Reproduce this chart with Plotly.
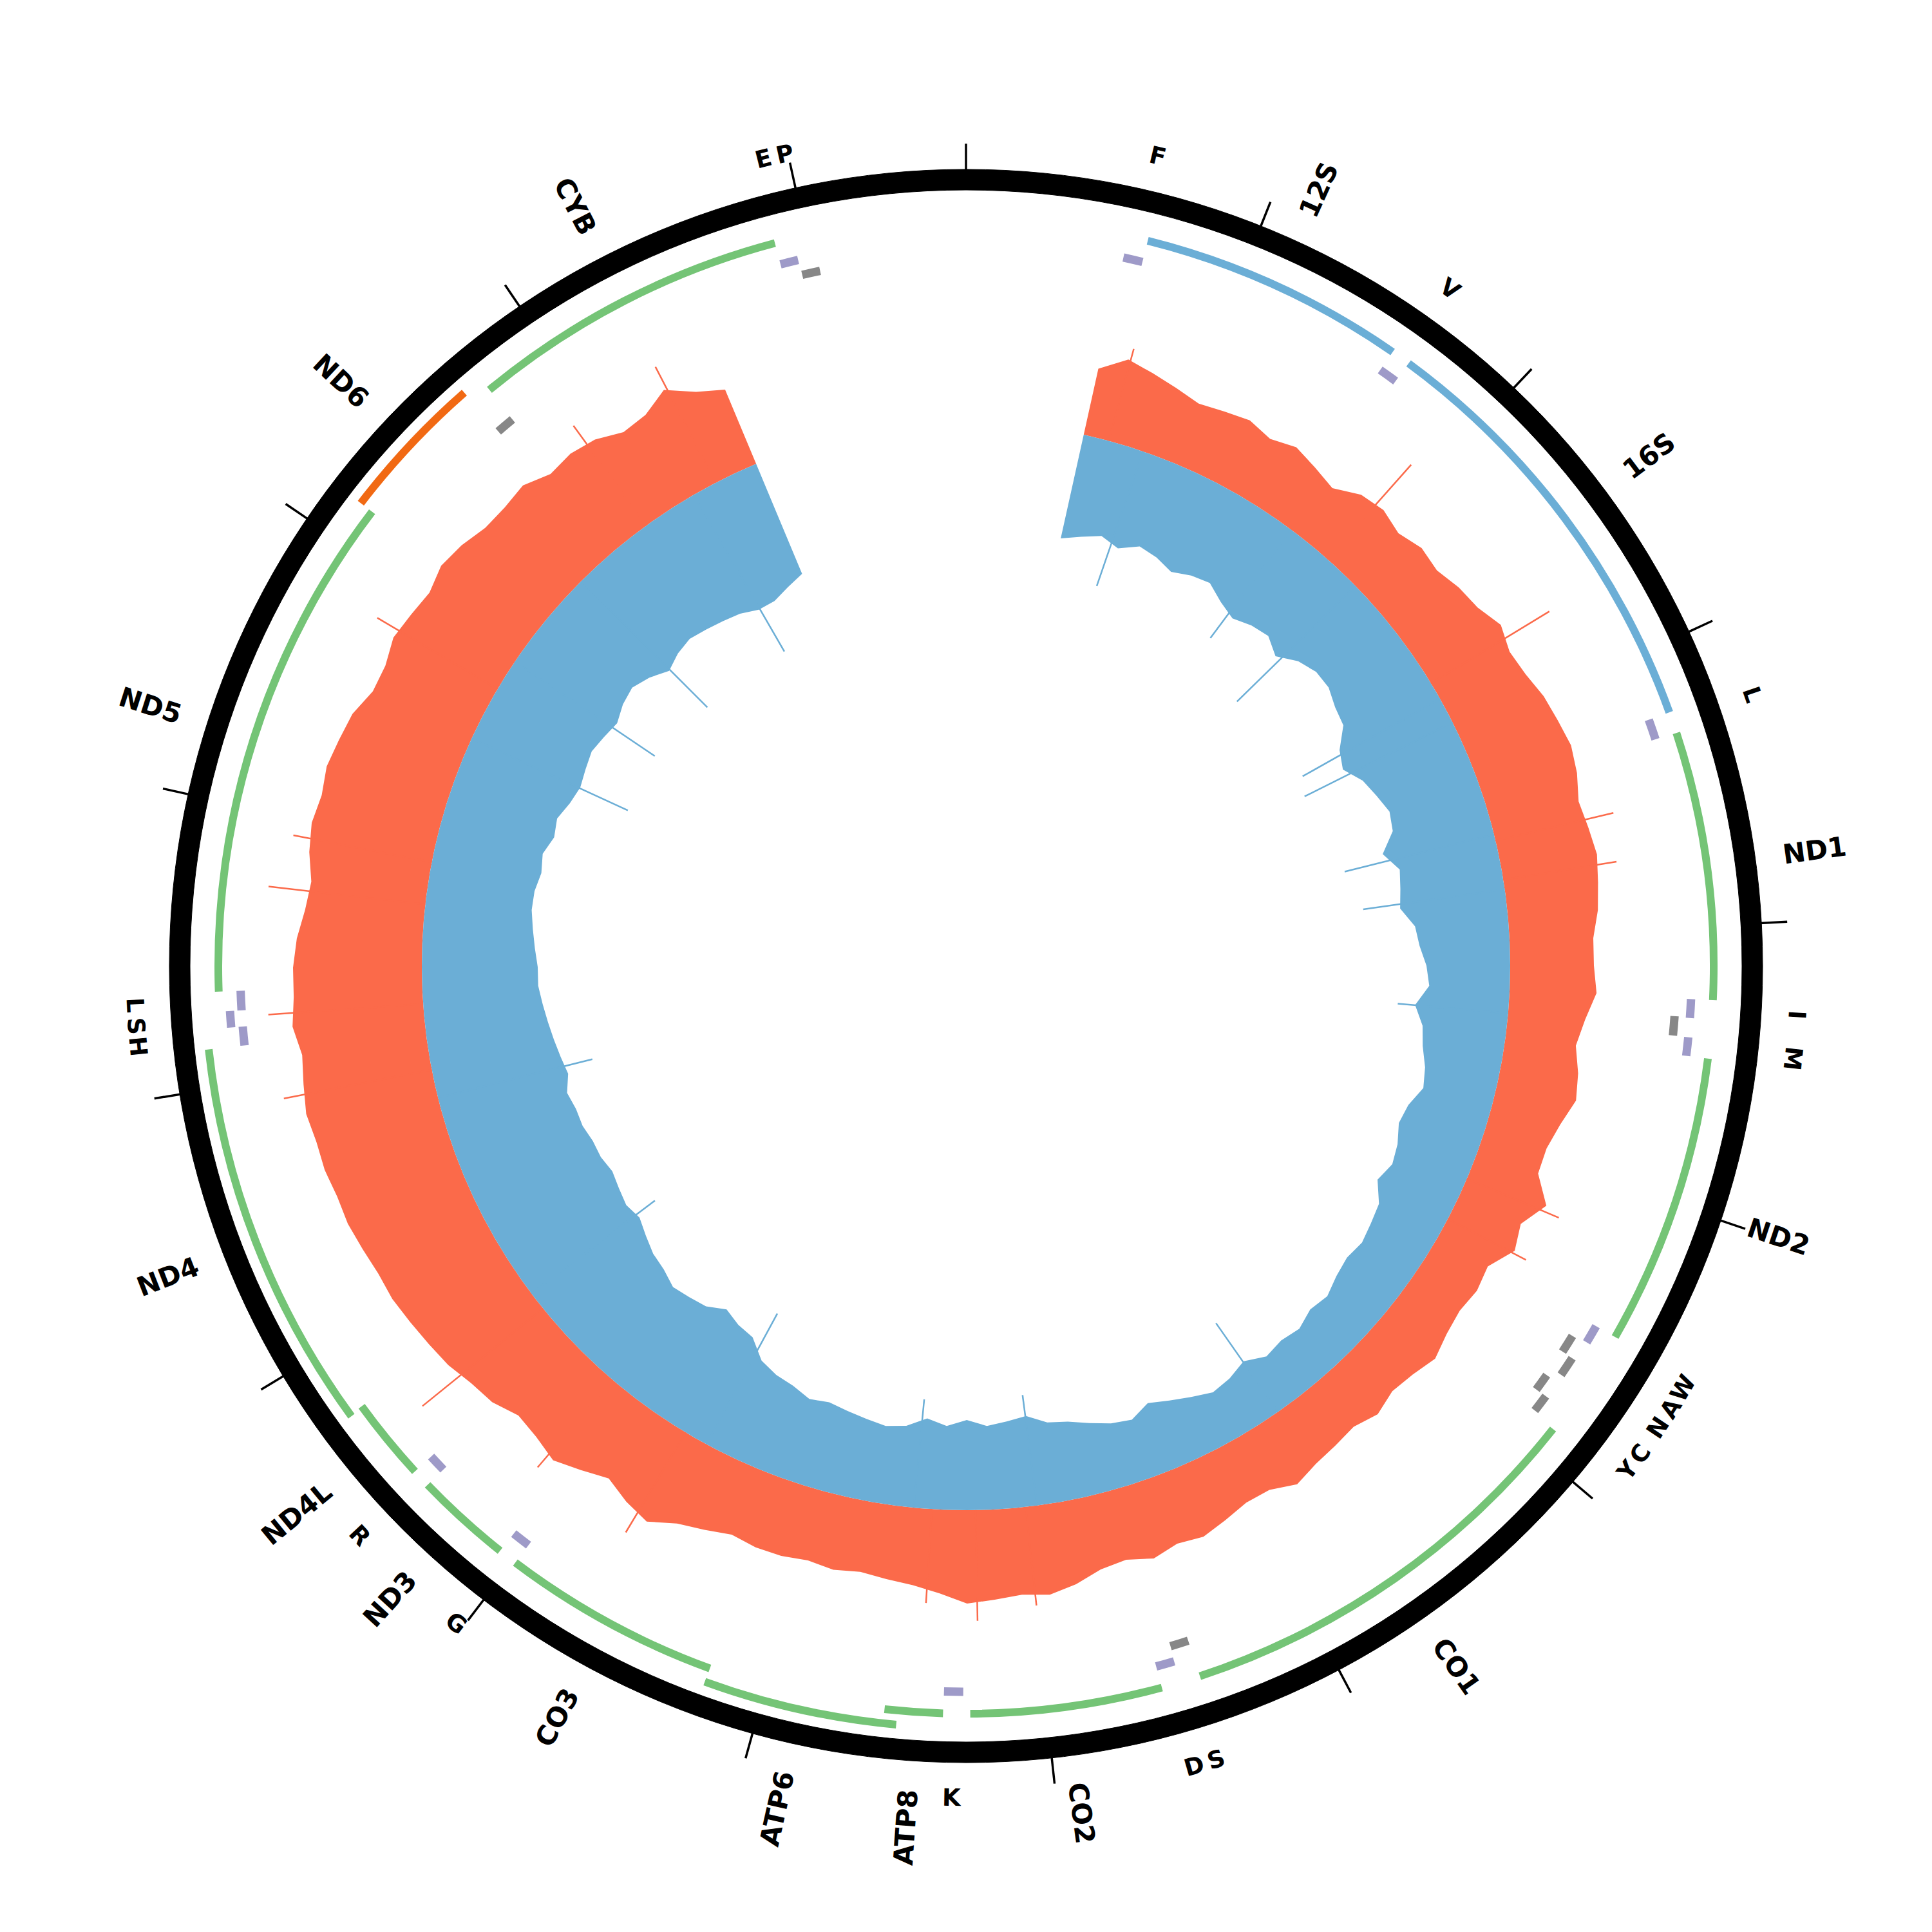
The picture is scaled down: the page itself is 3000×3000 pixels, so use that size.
import math
import plotly.graph_objects as go

GENOME_LEN = 16569

# ---------------- coverage tracks (binned, genomic position in bp) ----------------
bin_pos = [575 + 115 * i for i in range(131)]
plus_cov = [105, 130, 120, 110, 100, 105, 110, 100, 110, 100, 90, 110, 115, 105, 115, 110,
            120, 125, 140, 130, 135, 145, 150, 155, 150, 140, 145, 150, 145, 140, 130, 130,
            135, 120, 110, 120, 125, 110, 100, 100, 130, 105, 115, 90, 95, 90, 95, 105,
            95, 90, 100, 90, 95, 100, 110, 95, 95, 105, 115, 110, 120, 110, 115, 130,
            140, 135, 140, 145, 130, 120, 115, 110, 115, 110, 115, 115, 110, 120, 130, 150,
            140, 125, 140, 155, 145, 140, 155, 160, 170, 175, 180, 185, 185, 190, 195, 195,
            200, 200, 205, 200, 195, 205, 200, 200, 195, 185, 180, 190, 195, 190, 195, 190,
            185, 170, 170, 180, 175, 170, 180, 175, 165, 165, 170, 155, 160, 155, 140, 145,
            165, 140, 125]
minus_cov = [165, 155, 145, 155, 140, 145, 155, 145, 140, 155, 165, 155, 150, 165, 145, 135,
             135, 145, 150, 175, 185, 165, 155, 145, 150, 175, 155, 160, 165, 145, 140, 130,
             125, 145, 130, 125, 115, 110, 125, 130, 120, 115, 125, 105, 100, 95, 100, 95,
             85, 90, 80, 85, 80, 95, 85, 80, 90, 100, 110, 95, 100, 110, 120, 125,
             140, 135, 130, 140, 130, 140, 125, 120, 125, 130, 135, 130, 140, 145, 155, 180,
             185, 195, 180, 175, 170, 180, 185, 195, 205, 200, 205, 210, 205, 205, 200, 200,
             195, 205, 200, 195, 190, 185, 180, 180, 175, 170, 165, 165, 170, 165, 175, 170,
             180, 185, 180, 175, 180, 185, 175, 170, 180, 195, 185, 180, 185, 190, 195, 205,
             205, 195, 185]
plus_spike_pos = [700, 1915, 2702, 3530, 3723, 5201, 5417, 7995, 8238, 8450, 9711, 10149,
                  10632, 11921, 12243, 12726, 12933, 13835, 14912, 15308]
plus_spike_val = [148, 196, 215, 188, 178, 155, 137, 154, 172, 146, 181, 179,
                  241, 234, 241, 245, 219, 217, 192, 203]
minus_spike_pos = [874, 1689, 2103, 2789, 2918, 3498, 3769, 4372, 6674, 7939, 8538, 9596,
                   10723, 11782, 13564, 13992, 14498, 15188]
minus_spike_val = [221, 210, 257, 245, 257, 239, 222, 172, 168, 173, 169, 231,
                   240, 247, 267, 262, 277, 281]

# ---------------- genes ----------------
gene_names = ["12S", "16S", "ND1", "ND2", "CO1", "CO2", "ATP8", "ATP6", "CO3", "ND3",
              "ND4L", "ND4", "ND5", "ND6", "CYB"]
gene_start = [648, 1671, 3307, 4470, 5904, 7586, 8366, 8527, 9207, 10059, 10470, 10760,
              12337, 14149, 14747]
gene_end = [1601, 3229, 4262, 5511, 7445, 8269, 8572, 9207, 9990, 10404, 10766, 12137,
            14148, 14673, 15887]
gene_strand = ["+", "+", "+", "+", "+", "+", "+", "+", "+", "+", "+", "+", "+", "-", "+"]
gene_kind = ["rRNA", "rRNA"] + ["CDS"] * 13

# ---------------- tRNAs ----------------
trna_names = ["F", "V", "L1", "I", "Q", "M", "W", "A", "N", "C", "Y", "S1", "D", "K",
              "G", "R", "H", "S2", "L2", "E", "T", "P"]
trna_start = [577, 1602, 3230, 4263, 4329, 4402, 5512, 5587, 5657, 5761, 5826, 7446, 7518,
              8295, 9991, 10405, 12138, 12207, 12266, 14674, 15888, 15956]
trna_end = [647, 1670, 3304, 4331, 4400, 4469, 5579, 5655, 5729, 5826, 5891, 7514, 7585,
            8364, 10058, 10469, 12206, 12265, 12336, 14742, 15953, 16023]
trna_strand = ["+", "+", "+", "+", "-", "+", "+", "-", "-", "-", "-", "-", "+", "+",
               "+", "+", "+", "+", "+", "-", "+", "-"]
trna_label = ["F", "V", "L", "I", "", "M", "W", "A", "N", "C", "Y", "S", "D", "K",
              "G", "R", "H", "S", "L", "", "E", "P"]

tick_pos = list(range(0, 16001, 1000))

# ---------------- style ----------------
BASE = 845
RING_IN, RING_W = 1205, 32
TICK_LEN = 40
GENE_R, GENE_W, GENE_RAISE = 1155, 12, 22
TP_R, TM_R, T_W, T_RAISE = 1120.5, 1096.5, 13, 18
C_TRACK_RED = "#fb6a4a"
C_TRACK_BLUE = "#6baed6"
C_CDS = "#74c476"
C_CDS_MINUS = "#f16913"
C_RRNA = "#6baed6"
C_TRNA_P = "#9e9ac8"
C_TRNA_M = "#878787"
FONT = "DejaVu Sans"
PLOT_R = 1400


def deg(bp):
    return bp / GENOME_LEN * 360.0


def levels(starts, ends):
    out, prev_end, prev_lv = [], None, 0
    for s, e in zip(starts, ends):
        lv = 1 if (prev_end is not None and s - prev_end <= 2 and prev_lv == 0) else 0
        out.append(lv)
        prev_end, prev_lv = e, lv
    return out


fig = go.Figure()

# coverage polygons
th = [deg(p) for p in bin_pos]
fig.add_trace(go.Scatterpolar(
    theta=th + th[::-1], r=[BASE + v for v in plus_cov] + [BASE] * len(th),
    mode="lines", fill="toself", fillcolor=C_TRACK_RED, line=dict(width=0, color=C_TRACK_RED),
    hoverinfo="skip"))
fig.add_trace(go.Scatterpolar(
    theta=th + th[::-1], r=[BASE] * len(th) + [BASE - v for v in minus_cov][::-1],
    mode="lines", fill="toself", fillcolor=C_TRACK_BLUE, line=dict(width=0, color=C_TRACK_BLUE),
    hoverinfo="skip"))

# spikes
st, sr = [], []
for p, v in zip(plus_spike_pos, plus_spike_val):
    st += [deg(p), deg(p), None]
    sr += [BASE, BASE + v, None]
fig.add_trace(go.Scatterpolar(theta=st, r=sr, mode="lines",
                              line=dict(width=2.5, color=C_TRACK_RED), hoverinfo="skip"))
st, sr = [], []
for p, v in zip(minus_spike_pos, minus_spike_val):
    st += [deg(p), deg(p), None]
    sr += [BASE, BASE - v, None]
fig.add_trace(go.Scatterpolar(theta=st, r=sr, mode="lines",
                              line=dict(width=2.5, color=C_TRACK_BLUE), hoverinfo="skip"))

# genes
glv = levels(gene_start, gene_end)
gcol = []
for k, s in zip(gene_kind, gene_strand):
    gcol.append(C_RRNA if k == "rRNA" else (C_CDS if s == "+" else C_CDS_MINUS))
fig.add_trace(go.Barpolar(
    theta=[deg((s + e) / 2) for s, e in zip(gene_start, gene_end)],
    width=[deg(e - s + 1) for s, e in zip(gene_start, gene_end)],
    base=[GENE_R + l * GENE_RAISE for l in glv],
    r=[GENE_W] * len(gene_start),
    marker=dict(color=gcol, line=dict(width=0)), hoverinfo="skip"))

# tRNAs by strand
for strand, r0, col in (("+", TP_R, C_TRNA_P), ("-", TM_R, C_TRNA_M)):
    idx = [i for i, s in enumerate(trna_strand) if s == strand]
    ss = [trna_start[i] for i in idx]
    ee = [trna_end[i] for i in idx]
    lv = levels(ss, ee)
    fig.add_trace(go.Barpolar(
        theta=[deg((s + e) / 2) for s, e in zip(ss, ee)],
        width=[deg(e - s + 1) for s, e in zip(ss, ee)],
        base=[r0 + l * T_RAISE for l in lv],
        r=[T_W] * len(ss),
        marker=dict(color=col, line=dict(width=0)), hoverinfo="skip"))

# outer ring
fig.add_trace(go.Barpolar(theta=[45, 135, 225, 315], width=[90] * 4, base=[RING_IN] * 4,
                          r=[RING_W] * 4, marker=dict(color="black", line=dict(width=1, color="black")),
                          hoverinfo="skip"))

# ticks
tt, tr = [], []
for p in tick_pos:
    tt += [deg(p), deg(p), None]
    tr += [RING_IN + RING_W - 2, RING_IN + RING_W + TICK_LEN, None]
fig.add_trace(go.Scatterpolar(theta=tt, r=tr, mode="lines",
                              line=dict(width=3.5, color="black"), hoverinfo="skip"))

# labels
BOLD_W = {"A": 0.774, "C": 0.734, "D": 0.830, "L": 0.637, "N": 0.837, "O": 0.850,
          "P": 0.733, "S": 0.720, "T": 0.682, "Y": 0.724, "B": 0.762}


def text_len(s, size):
    return sum(BOLD_W.get(ch, 0.696) for ch in s) * size


def paper_xy(theta_deg, r):
    a = math.radians(theta_deg)
    return 0.5 + r * math.sin(a) / (2 * PLOT_R), 0.5 + r * math.cos(a) / (2 * PLOT_R)


annotations = []
GENE_FS = 42
for name, s, e in zip(gene_names, gene_start, gene_end):
    t = deg((s + e) / 2)
    rc = 1280 + text_len(name, GENE_FS) / 2
    x, y = paper_xy(t, rc)
    ang = t - 90 if t < 180 else t - 270
    annotations.append(dict(x=x, y=y, xref="paper", yref="paper", text=name, showarrow=False,
                            textangle=ang, xanchor="center", yanchor="middle",
                            font=dict(family=FONT, size=GENE_FS, color="black", weight="bold")))

TRNA_FS = 37
for lab, s, e in zip(trna_label, trna_start, trna_end):
    if not lab:
        continue
    t = deg((s + e) / 2)
    x, y = paper_xy(t, 1292)
    ang = t - 180 if 100 < t <= 280 else t
    ang = ((ang + 180) % 360) - 180
    annotations.append(dict(x=x, y=y, xref="paper", yref="paper", text=lab, showarrow=False,
                            textangle=ang, xanchor="center", yanchor="middle",
                            font=dict(family=FONT, size=TRNA_FS, color="black", weight="bold")))

# page body has an 8px default margin: offset plot margins so the circle is centred
fig.update_layout(
    width=3000, height=3000, margin=dict(l=92, r=108, t=92, b=108),
    paper_bgcolor="white", plot_bgcolor="white", showlegend=False,
    polar=dict(
        domain=dict(x=[0, 1], y=[0, 1]), bgcolor="white", hole=0,
        radialaxis=dict(range=[0, PLOT_R], visible=False, showgrid=False),
        angularaxis=dict(visible=False, showgrid=False, rotation=90, direction="clockwise"),
        barmode="overlay",
    ),
    annotations=annotations,
)

fig.write_html("out.html")
